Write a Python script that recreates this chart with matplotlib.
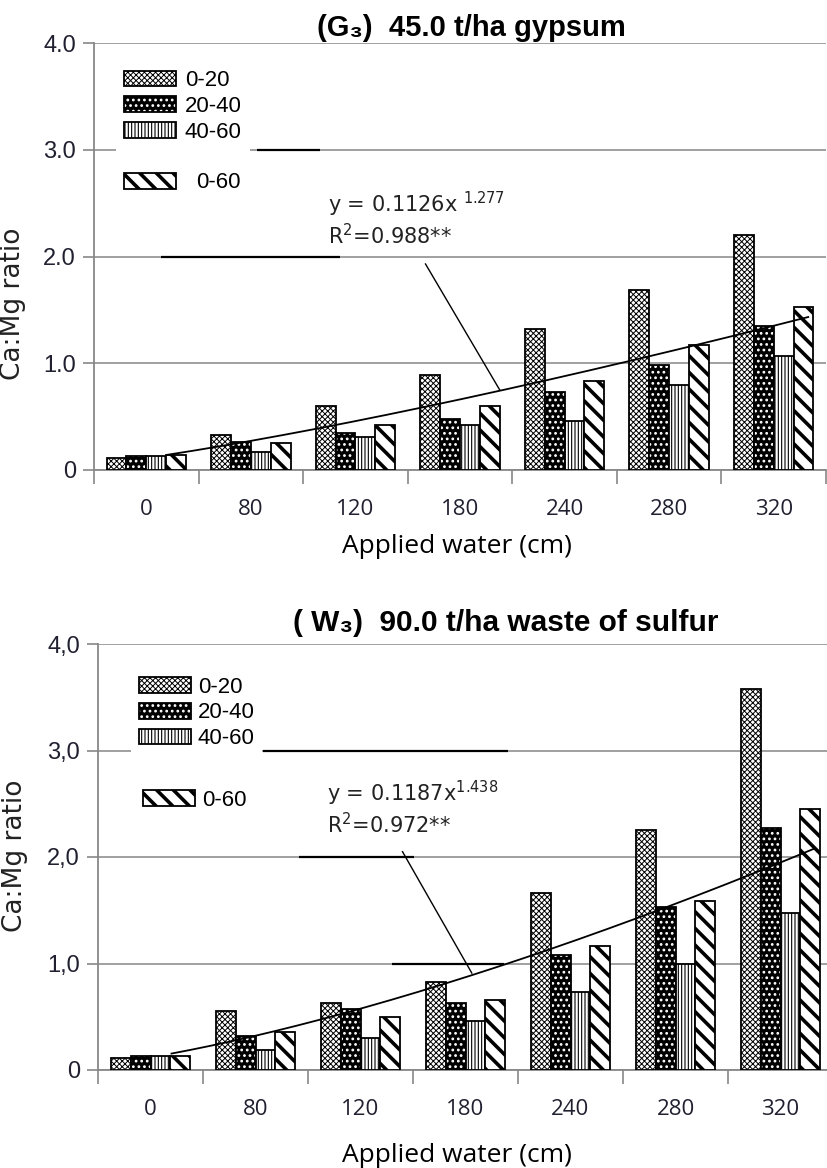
import numpy as np
import matplotlib.pyplot as plt
from matplotlib.patches import Rectangle
from matplotlib.legend_handler import HandlerTuple

categories = ['0', '80', '120', '180', '240', '280', '320']
depths = ['0-20', '20-40', '40-60', '0-60']

# (G3) 45.0 t/ha gypsum
g3_0_20 = [0.11, 0.33, 0.60, 0.89, 1.32, 1.69, 2.20]
g3_20_40 = [0.13, 0.26, 0.35, 0.48, 0.73, 0.98, 1.35]
g3_40_60 = [0.13, 0.17, 0.31, 0.42, 0.46, 0.80, 1.07]
g3_0_60 = [0.14, 0.25, 0.42, 0.60, 0.83, 1.17, 1.53]
g3_fit = (0.1126, 1.277)

# (W3) 90.0 t/ha waste of sulfur
w3_0_20 = [0.11, 0.555, 0.63, 0.83, 1.66, 2.25, 3.58]
w3_20_40 = [0.13, 0.315, 0.57, 0.63, 1.08, 1.53, 2.27]
w3_40_60 = [0.13, 0.19, 0.30, 0.46, 0.73, 1.00, 1.47]
w3_0_60 = [0.13, 0.36, 0.50, 0.655, 1.16, 1.585, 2.45]
w3_fit = (0.1187, 1.438)

plt.rcParams['font.family'] = ['DejaVu Sans']
plt.rcParams['mathtext.default'] = 'regular'

ARIAL = ['Liberation Sans', 'DejaVu Sans']
HATCH_LW = {'xxxxxx': 0.7, '...': 1.2, '|||||': 0.8, '\\\\': 2.6}

fig = plt.figure(figsize=(8.27, 11.68), dpi=100)
W, H = 827, 1168


def px_axes(l, r, top, bot):
    return fig.add_axes([l / W, 1 - bot / H, (r - l) / W, (bot - top) / H])


def set_hlw(patches):
    for b in patches:
        h = b.get_hatch()
        if h in HATCH_LW and hasattr(b, 'set_hatch_linewidth'):
            b.set_hatch_linewidth(HATCH_LW[h])


def draw_panel(ax, series, fit, ticklabels, eq, r2, leader, dark_segs):
    x = np.arange(len(categories))
    w = 0.19
    offs = (np.arange(4) - 1.5) * w
    handles = []
    b0 = ax.bar(x + offs[0], series[0], w, facecolor='white', edgecolor='black',
                hatch='xxxxxx', lw=1.3, zorder=3)
    handles.append(b0[0])
    b1 = ax.bar(x + offs[1], series[1], w, facecolor='black', edgecolor='white',
                hatch='...', lw=0, zorder=3)
    b1o = ax.bar(x + offs[1], series[1], w, fill=False, edgecolor='black', lw=1.3, zorder=3)
    handles.append((b1[0], b1o[0]))
    b2 = ax.bar(x + offs[2], series[2], w, facecolor='white', edgecolor='black',
                hatch='|||||', lw=1.3, zorder=3)
    handles.append(b2[0])
    b3 = ax.bar(x + offs[3], series[3], w, facecolor='white', edgecolor='black',
                hatch='\\\\', lw=1.3, zorder=3)
    handles.append(b3[0])
    for bars in (b0, b1, b2, b3):
        set_hlw(bars)

    # power trendline (Excel style, x = 1..7)
    a, p = fit
    xs = np.linspace(0.2, 6.33, 200)
    ax.plot(xs, a * (xs + 1) ** p, color='black', lw=1.3, zorder=4)

    ax.set_xlim(-0.5, 6.5)
    ax.set_ylim(0, 4)
    ax.set_yticks([0, 1, 2, 3, 4])
    ax.set_yticklabels(ticklabels, fontsize=17, family=ARIAL, color='#202030')
    ax.set_xticks(x)
    ax.set_xticklabels(categories, fontsize=16, family='Open Sans', color='#202030')
    ax.set_xticks(np.arange(-0.5, 7, 1), minor=True)
    ax.tick_params(axis='x', which='major', length=0, pad=21)
    ax.tick_params(axis='x', which='minor', length=10, color='#888888', width=1.2)
    ax.tick_params(axis='y', length=8, color='#888888', width=1.2, pad=5)
    ax.yaxis.grid(True, color='#999999', lw=1.3)
    ax.set_axisbelow(True)
    for s in ['top', 'right']:
        ax.spines[s].set_visible(False)
    for s in ['left', 'bottom']:
        ax.spines[s].set_color('#888888')
        ax.spines[s].set_linewidth(1.3)
    for yv, x0, x1 in dark_segs:
        ax.hlines(yv, x0, x1, color='black', lw=1.6, zorder=1.5)

    ax.text(eq[0], eq[1], eq[2], fontsize=15, va='center', ha='left', color='#222222')
    ax.text(eq[0], r2[0], r2[1], fontsize=15, va='center', ha='left', color='#222222')
    ax.plot([leader[0], leader[2]], [leader[1], leader[3]], color='black', lw=1, zorder=4)
    ax.set_ylabel('Ca:Mg ratio', fontsize=19, color='#222222')
    ax.set_xlabel('Applied water (cm)', fontsize=19, family='Open Sans', va='center')
    return handles


def legends(ax, handles, leg1, leg2):
    common = dict(loc='center left', bbox_transform=fig.transFigure, borderaxespad=0,
                  borderpad=0.35, prop={'family': ARIAL, 'size': 16},
                  handlelength=2.35, handleheight=0.7, labelspacing=0.22,
                  fancybox=False, framealpha=1,
                  handler_map={tuple: HandlerTuple(ndivide=1, pad=0)})
    l1 = ax.legend(handles[:3], depths[:3], bbox_to_anchor=(leg1[0] / W, 1 - leg1[1] / H),
                   handletextpad=leg1[2], frameon=True, facecolor='white', edgecolor='none',
                   **common)
    ax.add_artist(l1)
    l2 = ax.legend(handles[3:], depths[3:], bbox_to_anchor=(leg2[0] / W, 1 - leg2[1] / H),
                   handletextpad=leg2[2], frameon=False, **common)
    for leg in (l1, l2):
        set_hlw(leg.findobj(Rectangle))


# top panel
ax1 = px_axes(94, 826, 43, 470)
h1 = draw_panel(ax1, [g3_0_20, g3_20_40, g3_40_60, g3_0_60], g3_fit,
                ['0', '1.0', '2.0', '3.0', '4.0'],
                (1.74, 2.49, 'y = 0.1126x $^{1.277}$'), (2.20, 'R$^2$=0.988**'),
                (2.67, 1.93, 3.38, 0.75),
                [(3, 1.06, 1.66), (2, 0.14, 1.85)])
legends(ax1, h1, (116, 106.5, 0.4), (116, 183, 0.9))
ax1.yaxis.set_label_coords(-0.093, 0.389)
ax1.xaxis.set_label_coords(0.496, -0.178)
fig.text(317 / W, 1 - 28 / H, '(G\u2083)  45.0 t/ha gypsum', fontsize=21, weight='bold',
         family=ARIAL, va='center', ha='left')

# bottom panel
ax2 = px_axes(98, 833, 644, 1070)
h2 = draw_panel(ax2, [w3_0_20, w3_20_40, w3_40_60, w3_0_60], w3_fit,
                ['0', '1,0', '2,0', '3,0', '4,0'],
                (1.68, 2.60, 'y = 0.1187x$^{1.438}$'), (2.30, 'R$^2$=0.972**'),
                (2.40, 2.05, 3.06, 0.91),
                [(3, 1.07, 3.40), (2, 1.41, 2.51), (1, 2.30, 3.37)])
legends(ax2, h2, (131, 713, 0.3), (135, 800, 0.3))
ax2.yaxis.set_label_coords(-0.095, 0.502)
ax2.xaxis.set_label_coords(0.488, -0.2)
fig.text(293 / W, 1 - 623 / H, '( W\u2083)  90.0 t/ha waste of sulfur', fontsize=21.5,
         weight='bold', family=ARIAL, va='center', ha='left')

fig.savefig('out.png', dpi=100)
